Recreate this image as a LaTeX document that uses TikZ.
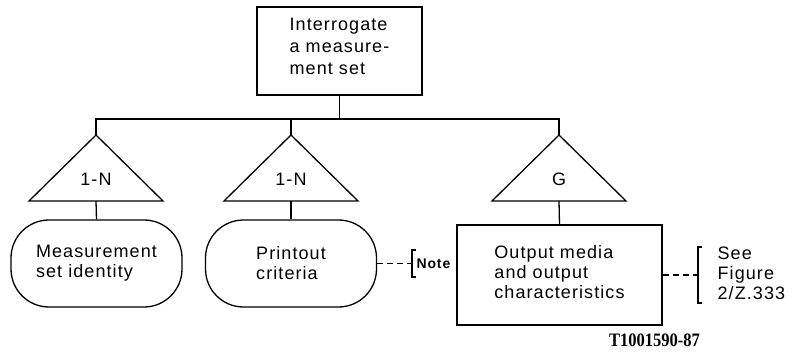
\documentclass[tikz,border=0pt]{standalone}
\usepackage{fontspec}
\usepackage{graphicx}
\setmainfont{Liberation Sans}[LetterSpace=6]
\newfontfamily\codefont{Liberation Serif}
\begin{document}
\begin{tikzpicture}[x=1pt,y=-1pt,line width=1.3pt,
  every node/.style={font=\fontsize{18}{20}\selectfont},
  sq/.style={draw,rectangle,align=left,inner sep=0pt},
  stadium/.style={draw,rectangle,rounded corners=38pt,align=left,inner sep=0pt,
    minimum width=171pt,minimum height=87pt},
  dashline/.style={dash pattern=on 6pt off 4pt},
  lbl/.style={inner sep=0pt}]
\path[use as bounding box] (0,0) rectangle (797,363);
% top box
\node[sq,minimum width=165pt,minimum height=88pt,font=\fontsize{18}{22}\selectfont]
  (top) at (339.5,51) {Interrogate\\a measure-\\ment set\\[-12pt]\mbox{}};
% bus
\coordinate (bus) at (96,119);
% triangles
\coordinate (a1) at (96,135);  \coordinate (b1) at (96,201);
\coordinate (a2) at (291,135); \coordinate (b2) at (291,201);
\coordinate (a3) at (559,135); \coordinate (b3) at (559,201);
\draw (a1) -- ++(-67,66) -- ++(134,0) -- cycle;
\draw (a2) -- ++(-67,66) -- ++(134,0) -- cycle;
\draw (a3) -- ++(-67,66) -- ++(134,0) -- cycle;
\node[lbl] (l1) at (96,179) {1-N};
\node[lbl] (l2) at (291,179) {1-N};
\node[lbl] (l3) at (559,179) {G};
% connectors to bus
\draw (top.south) -- (top.south |- bus);
\draw (a1) -- (a1 |- bus) -- (a3 |- bus) -- (a3);
\draw (a2) -- (a2 |- bus);
% bottom nodes
\node[stadium] (m1) at (96.5,263.5) {Measurement\\set identity};
\node[stadium] (m2) at (291,263.5) {Printout\\criteria};
\node[sq,minimum width=205pt,minimum height=100pt] (m3) at (559.5,275)
  {Output media\\and output\\characteristics\\[-14pt]\mbox{}};
\draw (b1) -- (m1.north);
\draw (b2) -- (m2.north);
\draw (b3) -- (m3.north);
% note
\coordinate (nb) at (412,263.5);
\draw (nb) ++(4,-13.5) -- ++(-4,0) -- ++(0,27) -- ++(4,0);
\draw[dashline] (m2.east) -- (nb);
\node[lbl,anchor=west,font=\bfseries\fontsize{14}{16}\selectfont] (note) at (416,263.5) {Note};
% see figure
\coordinate (sb) at (698,275);
\draw (sb) ++(4,-28) -- ++(-4,0) -- ++(0,56) -- ++(4,0);
\draw[dashline] (m3.east) -- (sb);
\node[lbl,anchor=west,align=left] (see) at (717,273) {See\\Figure\\2/Z.333};
% code
\node[lbl] (code) at (654.5,340) {\fontsize{19}{20}\selectfont\codefont\bfseries\scalebox{0.87}[1]{T1001590-87}};
\end{tikzpicture}
\end{document}
